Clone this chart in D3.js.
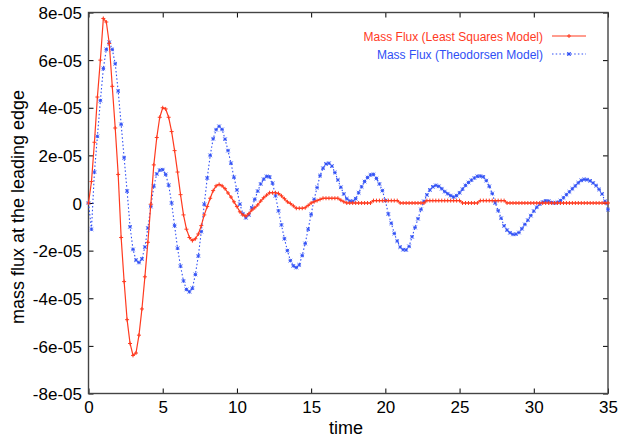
<!DOCTYPE html>
<html>
<head>
<meta charset="utf-8">
<script src="https://cdn.jsdelivr.net/npm/d3@7"></script>
<style>
  html, body { margin: 0; padding: 0; background: #fff; }
  svg { display: block; font-family: "Liberation Sans", Arial, Helvetica, sans-serif; }
</style>
</head>
<body>
<svg id="chart" width="618" height="437"></svg>
<script>
// Sampling interval of both series (time units)
const timeStep = 0.2;

// Mass flux at the leading edge, in units of 1e-5
const massFluxLeastSquares = [
  0.0, 0.9, 2.55, 4.45, 6.0, 7.75, 7.6, 6.7, 4.9, 3.15,
  1.2, -1.45, -3.3, -4.9, -5.9, -6.4, -6.3, -5.55, -4.45, -3.1,
  -1.65, -0.05, 1.6, 2.75, 3.6, 4.0, 3.95, 3.6, 3.0, 2.2,
  1.3, 0.35, -0.5, -1.1, -1.45, -1.58, -1.5, -1.3, -0.95, -0.5,
  -0.15, 0.2, 0.52, 0.72, 0.78, 0.72, 0.6, 0.42, 0.25, 0.05,
  -0.15, -0.37, -0.5, -0.55, -0.45, -0.3, -0.2, -0.08, 0.08, 0.22,
  0.33, 0.43, 0.43, 0.43, 0.4, 0.3, 0.18, 0.05, -0.02, -0.12,
  -0.22, -0.22, -0.22, -0.2, -0.1, 0.0, 0.05, 0.1, 0.15, 0.2,
  0.2, 0.2, 0.2, 0.2, 0.2, 0.12, 0.05, 0.0, 0.0, 0.0,
  0.0, 0.0, 0.0, 0.0, 0.0, 0.0, 0.1, 0.1, 0.1, 0.1,
  0.1, 0.1, 0.1, 0.1, 0.1, 0.0, 0.0, 0.0, 0.0, 0.0,
  0.0, 0.0, 0.0, 0.0, 0.1, 0.1, 0.1, 0.1, 0.1, 0.1,
  0.1, 0.1, 0.1, 0.1, 0.1, 0.1, 0.0, 0.0, 0.0, 0.0,
  0.0, 0.0, 0.1, 0.1, 0.1, 0.1, 0.1, 0.1, 0.1, 0.1,
  0.1, 0.0, 0.0, 0.0, 0.0, 0.0, 0.0, 0.0, 0.0, 0.0,
  0.0, 0.0, 0.0, 0.0, 0.0, 0.0, 0.0, 0.0, 0.0, 0.0,
  0.0, 0.0, 0.0, 0.0, 0.0, 0.0, 0.0, 0.0, 0.0, 0.0,
  0.0, 0.0, 0.0, 0.0, 0.0, 0.0
];

const massFluxTheodorsen = [
  0.0, -1.1, 1.3, 2.8, 4.3, 5.65, 6.45, 6.75, 6.45, 5.85,
  4.7, 3.3, 1.9, 0.5, -1.0, -1.95, -2.4, -2.5, -2.35, -1.85,
  -1.05, -0.15, 0.7, 1.22, 1.38, 1.4, 1.2, 0.75, 0.0, -0.95,
  -1.9, -2.65, -3.27, -3.63, -3.73, -3.58, -3.0, -2.22, -1.2, -0.05,
  1.05, 2.0, 2.7, 3.08, 3.22, 3.09, 2.68, 2.2, 1.67, 1.08,
  0.55, -0.05, -0.45, -0.62, -0.5, -0.2, 0.15, 0.5, 0.8, 1.0,
  1.12, 1.1, 0.83, 0.3, -0.33, -0.92, -1.5, -2.0, -2.42, -2.64,
  -2.71, -2.6, -2.2, -1.7, -1.1, -0.48, 0.15, 0.65, 1.15, 1.46,
  1.64, 1.67, 1.55, 1.28, 0.97, 0.66, 0.38, 0.18, 0.08, 0.07,
  0.18, 0.43, 0.68, 0.9, 1.07, 1.18, 1.2, 1.03, 0.8, 0.52,
  0.1, -0.46, -0.85, -1.28, -1.6, -1.85, -1.96, -1.97, -1.82, -1.42,
  -1.03, -0.66, -0.27, 0.07, 0.34, 0.55, 0.68, 0.74, 0.7, 0.6,
  0.48, 0.39, 0.31, 0.25, 0.31, 0.43, 0.58, 0.74, 0.86, 0.96,
  1.05, 1.12, 1.13, 1.1, 0.94, 0.7, 0.4, 0.0, -0.32, -0.64,
  -0.96, -1.14, -1.25, -1.32, -1.31, -1.24, -1.08, -0.9, -0.72, -0.53,
  -0.34, -0.18, -0.05, 0.04, 0.09, 0.08, 0.02, 0.0, 0.03, 0.1,
  0.22, 0.35, 0.47, 0.6, 0.72, 0.85, 0.95, 0.99, 0.98, 0.93,
  0.84, 0.73, 0.57, 0.38, 0.07, -0.28
];

const xTicks = [0, 5, 10, 15, 20, 25, 30, 35];
const yTicks = [-8, -6, -4, -2, 0, 2, 4, 6, 8];
const yTickLabels = ["-8e-05", "-6e-05", "-4e-05", "-2e-05", "0", "2e-05", "4e-05", "6e-05", "8e-05"];
const seriesNames = ["Mass Flux (Least Squares Model)", "Mass Flux (Theodorsen Model)"];

const RED = "#ff3a1f";
const BLUE = "#2f4ff5";

const svg = d3.select("#chart");
const plot = { left: 88.5, right: 608, top: 12.5, bottom: 393.5 };

const x = d3.scaleLinear().domain([0, 35]).range([plot.left, plot.right]);
const y = d3.scaleLinear().domain([-8, 8]).range([plot.bottom, plot.top]);

const toPoints = vals => vals.map((v, i) => ({ t: i * timeStep, v }));
const lsq = toPoints(massFluxLeastSquares);
const theo = toPoints(massFluxTheodorsen);

// Axes with inward ticks on all four sides
const labelFor = d => yTickLabels[yTicks.indexOf(d)];
const axisStyle = g => {
  g.select(".domain").remove();
  g.selectAll(".tick line").attr("stroke", "#000").attr("stroke-width", 1);
  g.selectAll(".tick text").attr("fill", "#000").attr("font-size", 17)
    .attr("font-family", "'Liberation Sans', Arial, Helvetica, sans-serif");
};

svg.append("g").attr("transform", `translate(0,${plot.bottom})`)
  .call(d3.axisBottom(x).tickValues(xTicks).tickFormat(d3.format("d"))
    .tickSizeInner(-5).tickSizeOuter(0).tickPadding(7))
  .call(axisStyle);

svg.append("g").attr("transform", `translate(0,${plot.top})`)
  .call(d3.axisTop(x).tickValues(xTicks).tickFormat("")
    .tickSizeInner(-5).tickSizeOuter(0))
  .call(axisStyle);

svg.append("g").attr("transform", `translate(${plot.left},0)`)
  .call(d3.axisLeft(y).tickValues(yTicks).tickFormat(labelFor)
    .tickSizeInner(-5).tickSizeOuter(0).tickPadding(6.5))
  .call(axisStyle)
  .call(g => g.selectAll(".tick text").attr("dy", "0.36em"));

svg.append("g").attr("transform", `translate(${plot.right},0)`)
  .call(d3.axisRight(y).tickValues(yTicks).tickFormat("")
    .tickSizeInner(-5).tickSizeOuter(0))
  .call(axisStyle);

// Plot border
svg.append("rect")
  .attr("x", plot.left).attr("y", plot.top)
  .attr("width", plot.right - plot.left).attr("height", plot.bottom - plot.top)
  .attr("fill", "none").attr("stroke", "#444").attr("stroke-width", 1.4);

// Axis titles
svg.append("text").attr("x", 346).attr("y", 434)
  .attr("text-anchor", "middle").attr("font-size", 18).attr("fill", "#000")
  .text("time");

svg.append("text").attr("transform", "translate(24,207) rotate(-90)")
  .attr("text-anchor", "middle").attr("font-size", 18).attr("fill", "#000")
  .text("mass flux at the leading edge");

// Series
const line = d3.line().x(d => x(d.t)).y(d => y(d.v));
const plusPath = s => `M${-s},0H${s}M0,${-s}V${s}`;
const starPath = s => `M${-s},0H${s}M0,${-s}V${s}M${-s},${-s}L${s},${s}M${-s},${s}L${s},${-s}`;

const series = svg.append("g");

series.append("path").datum(theo)
  .attr("d", line).attr("fill", "none")
  .attr("stroke", BLUE).attr("stroke-width", 1.1)
  .attr("stroke-dasharray", "1.5,2.2");

series.append("g").selectAll("path").data(theo).join("path")
  .attr("transform", d => `translate(${x(d.t)},${y(d.v)})`)
  .attr("d", starPath(1.8)).attr("fill", "none")
  .attr("stroke", BLUE).attr("stroke-width", 0.9);

series.append("path").datum(lsq)
  .attr("d", line).attr("fill", "none")
  .attr("stroke", RED).attr("stroke-width", 1.2);

series.append("g").selectAll("path").data(lsq).join("path")
  .attr("transform", d => `translate(${x(d.t)},${y(d.v)})`)
  .attr("d", plusPath(2)).attr("fill", "none")
  .attr("stroke", RED).attr("stroke-width", 1);

// Legend
const legend = svg.append("g");
const legendRows = [
  { name: seriesNames[0], color: RED, dash: null, marker: plusPath(2), y: 36 },
  { name: seriesNames[1], color: BLUE, dash: "1.5,2.2", marker: starPath(1.8), y: 54 }
];
legendRows.forEach(r => {
  legend.append("text").attr("x", 543).attr("y", r.y + 5)
    .attr("text-anchor", "end").attr("font-size", 12).attr("fill", r.color)
    .text(r.name);
  legend.append("line").attr("x1", 552).attr("x2", 586).attr("y1", r.y).attr("y2", r.y)
    .attr("stroke", r.color).attr("stroke-width", r.dash ? 1.1 : 1.2)
    .attr("stroke-dasharray", r.dash);
  legend.append("path").attr("transform", `translate(569,${r.y})`)
    .attr("d", r.marker).attr("fill", "none").attr("stroke", r.color).attr("stroke-width", 1);
});
</script>
</body>
</html>
